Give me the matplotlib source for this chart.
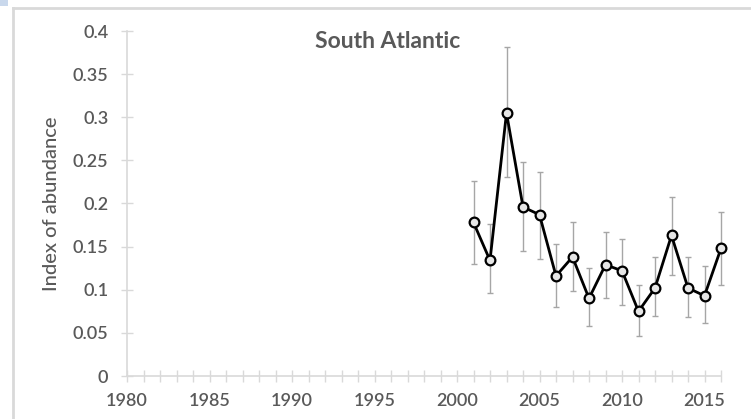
import numpy as np
import matplotlib
matplotlib.use('Agg')
import matplotlib.pyplot as plt
from matplotlib.patches import Rectangle
from matplotlib.lines import Line2D

# Values
years = [2001, 2002, 2003, 2004, 2005, 2006, 2007, 2008,
         2009, 2010, 2011, 2012, 2013, 2014, 2015, 2016]
index = [0.178, 0.134, 0.305, 0.196, 0.187, 0.116, 0.138, 0.090,
         0.129, 0.122, 0.075, 0.102, 0.163, 0.102, 0.093, 0.148]
lower = [0.130, 0.096, 0.231, 0.145, 0.136, 0.080, 0.099, 0.058,
         0.090, 0.082, 0.046, 0.069, 0.117, 0.068, 0.061, 0.106]
upper = [0.226, 0.176, 0.381, 0.248, 0.236, 0.153, 0.178, 0.125,
         0.167, 0.159, 0.106, 0.138, 0.207, 0.138, 0.128, 0.190]

title = 'South Atlantic'
ylabel = 'Index of abundance'
ytick_labels = ['0', '0.05', '0.1', '0.15', '0.2', '0.25', '0.3', '0.35', '0.4']

text_col = '#595959'
axis_col = '#d9d9d9'

plt.rcParams['font.family'] = ['Lato', 'DejaVu Sans']

fig = plt.figure(figsize=(7.51, 4.19), dpi=100)
ax = fig.add_axes([127 / 751, 1 - 376 / 419, (721 - 127) / 751, (376 - 31) / 419])

idx = np.array(index)
yerr = np.vstack([idx - np.array(lower), np.array(upper) - idx])
eb = ax.errorbar(years, index, yerr=yerr, fmt='none', ecolor='#a6a6a6',
                 elinewidth=1.0, capsize=2.5, capthick=1.0, zorder=2)
for art in eb.lines[1] + eb.lines[2]:
    art.set_clip_on(False)
ax.plot(years, index, color='black', lw=2, marker='o', ms=7,
        mfc='#e6e6e6', mec='black', mew=1.6, zorder=3, clip_on=False)

ax.set_xlim(1980, 2016)
ax.set_ylim(0, 0.4)
ax.set_xticks(range(1980, 2016, 5))
ax.set_xticks(range(1980, 2017), minor=True)
ax.set_yticks(np.arange(0, 0.401, 0.05))
ax.set_yticklabels(ytick_labels)

for s in ['top', 'right']:
    ax.spines[s].set_visible(False)
for s in ['left', 'bottom']:
    ax.spines[s].set_color(axis_col)
    ax.spines[s].set_linewidth(1.2)

ax.tick_params(which='both', direction='inout', length=9, width=1,
               color=axis_col, labelcolor=text_col, labelsize=13)
ax.tick_params(axis='x', pad=8)
ax.tick_params(axis='y', pad=9)
for lab in ax.get_xticklabels() + ax.get_yticklabels():
    lab.set_fontweight('semibold')

ax.set_ylabel(ylabel, color=text_col, fontsize=14.5, fontweight='medium')
ax.yaxis.set_label_coords(-0.113, 0.5)

fig.text(388 / 751, 1 - 42 / 419, title, ha='center', va='center',
         fontsize=16.5, fontweight='bold', color=text_col)

# chart frame left and top, plus selection handle
fig.add_artist(Line2D([13 / 751, 1], [1 - 8 / 419, 1 - 8 / 419], color=axis_col, lw=2))
fig.add_artist(Line2D([13 / 751, 13 / 751], [0, 1 - 8 / 419], color=axis_col, lw=2))
fig.add_artist(Rectangle((0, 1 - 6 / 419), 8 / 751, 6 / 419, color='#c9d8ec', lw=0))

fig.savefig('out.png', dpi=100)
plt.close(fig)
